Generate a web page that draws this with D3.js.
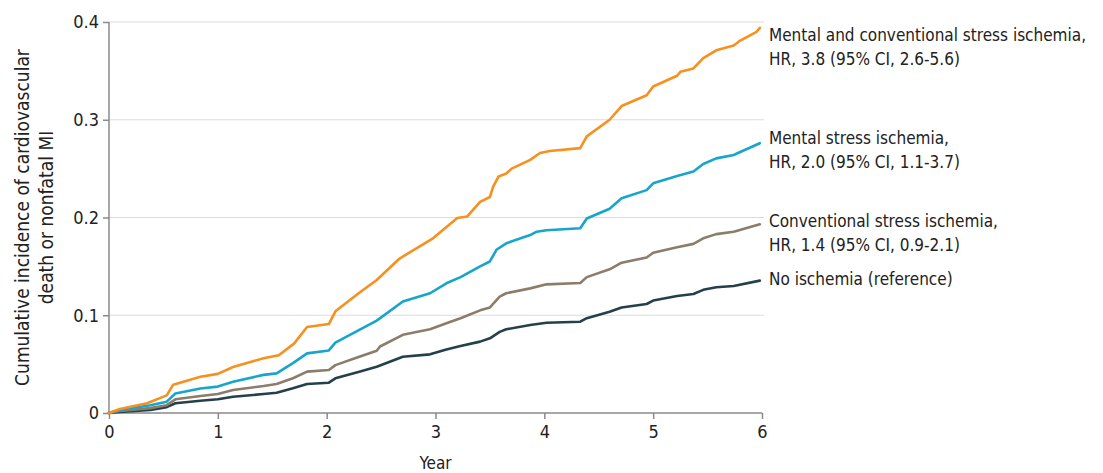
<!DOCTYPE html>
<html>
<head>
<meta charset="utf-8">
<script src="https://cdn.jsdelivr.net/npm/d3@7"></script>
<style>
  body { margin: 0; background: #fff; }
  svg text { font-family: "DejaVu Sans Condensed", "DejaVu Sans", sans-serif; fill: #222; }
</style>
</head>
<body>
<div id="chart"></div>
<script>
// Data: [year, cumulative incidence]
var bothIschemia = [[0,0],[0.1,0.004],[0.35,0.01],[0.53,0.018],[0.59,0.029],[0.84,0.037],[1.0,0.040],[1.14,0.047],[1.42,0.056],[1.56,0.059],[1.7,0.071],[1.82,0.088],[2.02,0.091],[2.08,0.104],[2.3,0.123],[2.46,0.136],[2.67,0.158],[2.98,0.179],[3.2,0.1995],[3.29,0.201],[3.41,0.216],[3.5,0.221],[3.53,0.2315],[3.58,0.242],[3.65,0.245],[3.7,0.25],[3.87,0.259],[3.96,0.266],[4.05,0.268],[4.33,0.271],[4.39,0.283],[4.6,0.3],[4.71,0.314],[4.94,0.325],[5.0,0.334],[5.22,0.345],[5.25,0.349],[5.37,0.3525],[5.46,0.363],[5.58,0.371],[5.74,0.376],[5.8,0.381],[5.95,0.39],[5.98,0.394]];
var mentalIschemia = [[0,0],[0.1,0.003],[0.38,0.008],[0.53,0.0116],[0.61,0.02],[0.84,0.025],[1.0,0.027],[1.14,0.032],[1.42,0.039],[1.54,0.0405],[1.69,0.051],[1.82,0.061],[2.02,0.064],[2.08,0.072],[2.3,0.085],[2.46,0.0945],[2.7,0.114],[2.95,0.1225],[3.1,0.1327],[3.23,0.139],[3.41,0.15],[3.5,0.155],[3.56,0.167],[3.65,0.1736],[3.87,0.182],[3.93,0.1855],[4.02,0.187],[4.33,0.189],[4.39,0.199],[4.6,0.209],[4.71,0.2196],[4.94,0.228],[5.0,0.235],[5.22,0.2425],[5.37,0.247],[5.46,0.2547],[5.58,0.2605],[5.74,0.264],[5.8,0.267],[5.98,0.276]];
var conventionalIschemia = [[0,0],[0.1,0.002],[0.38,0.005],[0.53,0.008],[0.61,0.014],[0.84,0.0174],[1.0,0.0194],[1.14,0.0235],[1.42,0.0276],[1.54,0.0297],[1.69,0.0355],[1.82,0.0423],[2.02,0.044],[2.08,0.049],[2.3,0.0576],[2.46,0.0637],[2.49,0.068],[2.7,0.08],[2.95,0.0856],[3.1,0.0918],[3.23,0.097],[3.41,0.105],[3.5,0.108],[3.59,0.119],[3.65,0.1225],[3.87,0.1275],[4.02,0.1316],[4.33,0.133],[4.39,0.139],[4.6,0.147],[4.71,0.1538],[4.94,0.159],[5.0,0.164],[5.22,0.1695],[5.37,0.173],[5.46,0.1787],[5.58,0.183],[5.74,0.1855],[5.98,0.193]];
var noIschemia = [[0,0],[0.1,0.001],[0.38,0.003],[0.53,0.006],[0.61,0.01],[0.84,0.0126],[1.0,0.014],[1.14,0.0167],[1.42,0.0194],[1.54,0.0208],[1.69,0.0253],[1.82,0.0297],[2.02,0.031],[2.08,0.0355],[2.3,0.0423],[2.46,0.0474],[2.7,0.0576],[2.95,0.06],[3.1,0.065],[3.23,0.0685],[3.41,0.073],[3.5,0.0764],[3.59,0.083],[3.65,0.0856],[3.87,0.09],[4.02,0.0924],[4.33,0.0934],[4.39,0.097],[4.6,0.1036],[4.71,0.108],[4.94,0.1115],[5.0,0.115],[5.22,0.1197],[5.37,0.1217],[5.46,0.126],[5.58,0.1286],[5.74,0.13],[5.98,0.1354]];

var seriesColors = ["#f7901e", "#17a5cc", "#8c7d6b", "#24404a"];
var seriesLabels = [
  ["Mental and conventional stress ischemia,", "HR, 3.8 (95% CI, 2.6-5.6)"],
  ["Mental stress ischemia,", "HR, 2.0 (95% CI, 1.1-3.7)"],
  ["Conventional stress ischemia,", "HR, 1.4 (95% CI, 0.9-2.1)"],
  ["No ischemia (reference)"]
];
var labelTop = [0.3867, 0.2813, 0.1964, 0.137]; // y value at centre of label's first line
var xTicks = [0, 1, 2, 3, 4, 5, 6];
var yTicks = [0, 0.1, 0.2, 0.3, 0.4];
var allSeries = [bothIschemia, mentalIschemia, conventionalIschemia, noIschemia];

// Set up dimensions
var margin = { top: 22, right: 341, bottom: 60, left: 109 },
  width = 1103 - margin.left - margin.right,
  height = 473 - margin.top - margin.bottom;

var svg = d3.select("#chart")
  .append("svg")
  .attr("width", 1103)
  .attr("height", 473)
  .append("g")
  .attr("transform", "translate(" + margin.left + "," + margin.top + ")");

var x = d3.scaleLinear().domain([0, 6]).range([0, width]);
var y = d3.scaleLinear().domain([0, 0.4]).range([height, 0]);

// Gridlines
svg.selectAll(".grid")
  .data(yTicks.filter(function(d) { return d > 0; }))
  .enter().append("line")
  .attr("x1", 0)
  .attr("x2", x(6) + 2)
  .attr("y1", function(d) { return y(d); })
  .attr("y2", function(d) { return y(d); })
  .style("stroke", "#dcdcdc")
  .style("stroke-width", 1.2);

// Axes
var xAxis = svg.append("g")
  .attr("transform", "translate(0," + height + ")")
  .call(d3.axisBottom(x).tickValues(xTicks).tickSize(6).tickPadding(6).tickFormat(d3.format("d")));

var yAxis = svg.append("g")
  .call(d3.axisLeft(y).tickValues(yTicks).tickSize(6).tickPadding(4)
    .tickFormat(function(d) { return d === 0 ? "0" : d3.format(".1f")(d); }));

[xAxis, yAxis].forEach(function(a) {
  a.select(".domain").style("stroke", "#8a8a8a").style("stroke-width", 1.5);
  a.selectAll(".tick line").style("stroke", "#8a8a8a").style("stroke-width", 1.5);
  a.selectAll("text").style("font-size", "18px").style("fill", "#222");
});
xAxis.select(".domain").attr("d", "M0,0H" + x(6));
yAxis.select(".domain").attr("d", "M0," + height + "V0");

// Lines
var line = d3.line()
  .x(function(d) { return x(d[0]); })
  .y(function(d) { return y(d[1]); });

allSeries.slice().reverse().forEach(function(s, i) {
  var idx = allSeries.length - 1 - i;
  svg.append("path")
    .datum(s)
    .attr("d", line)
    .style("fill", "none")
    .style("stroke", seriesColors[idx])
    .style("stroke-width", 2.6)
    .style("stroke-linejoin", "round")
    .style("stroke-linecap", "round");
});

// Line labels
seriesLabels.forEach(function(lines, i) {
  var t = svg.append("text")
    .attr("x", x(6) + 7)
    .attr("y", y(labelTop[i]))
    .style("font-size", "17px");
  lines.forEach(function(l, j) {
    t.append("tspan")
      .attr("x", x(6) + 7)
      .attr("dy", j === 0 ? "0.35em" : "24px")
      .text(l);
  });
});

// Axis titles
svg.append("text")
  .attr("x", x(3))
  .attr("y", height + 56)
  .attr("text-anchor", "middle")
  .style("font-size", "17px")
  .text("Year");

var yTitle = svg.append("text")
  .attr("transform", "translate(" + (-margin.left + 29) + "," + (height / 2) + ") rotate(-90)")
  .attr("text-anchor", "middle")
  .style("font-size", "19px");
yTitle.append("tspan").attr("x", 0).attr("dy", 0).text("Cumulative incidence of cardiovascular");
yTitle.append("tspan").attr("x", 0).attr("dy", "24px").text("death or nonfatal MI");
</script>
</body>
</html>
